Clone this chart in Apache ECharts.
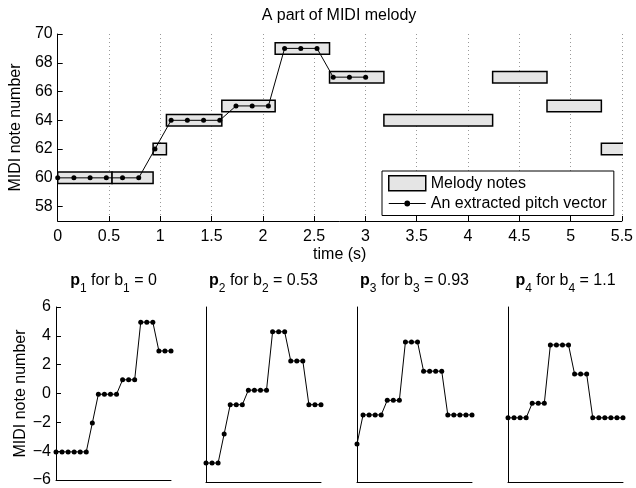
<!DOCTYPE html>
<html>
<head>
<meta charset="utf-8">
<script src="https://cdn.jsdelivr.net/npm/echarts@6/dist/echarts.min.js"></script>
<style>
  html, body { margin: 0; padding: 0; background: #fff; }
  #chart { width: 636px; height: 488px; }
</style>
</head>
<body>
<div id="chart"></div>
<script>
// ---- Data ----
const noteStart = [0, 0.53, 0.93, 1.06, 1.6, 2.12, 2.65, 3.18, 4.24, 4.77, 5.3];
const noteEnd   = [0.53, 0.93, 1.06, 1.6, 2.12, 2.65, 3.18, 4.24, 4.77, 5.3, 5.83];
const notePitch = [60, 60, 62, 64, 65, 69, 67, 64, 67, 65, 62];

const pitchTimes  = [0, 0.158, 0.316, 0.474, 0.632, 0.79, 0.948, 1.106, 1.264, 1.422,
                     1.58, 1.738, 1.896, 2.054, 2.212, 2.37, 2.528, 2.686, 2.844, 3.002];
const pitchValues = [60, 60, 60, 60, 60, 60, 62, 64, 64, 64,
                     64, 65, 65, 65, 69, 69, 69, 67, 67, 67];

const xTicksTop = [0, 0.5, 1, 1.5, 2, 2.5, 3, 3.5, 4, 4.5, 5, 5.5];
const yTicksTop = [58, 60, 62, 64, 66, 68, 70];
const yTicksBottom = [-6, -4, -2, 0, 2, 4, 6];

const vecIndex = [1, 2, 3, 4, 5, 6, 7, 8, 9, 10, 11, 12, 13, 14, 15, 16, 17, 18, 19, 20];
const p1 = [-4.05, -4.05, -4.05, -4.05, -4.05, -4.05, -2.05, -0.05, -0.05, -0.05,
            -0.05, 0.95, 0.95, 0.95, 4.95, 4.95, 4.95, 2.95, 2.95, 2.95];
const p2 = [-4.7, -4.7, -4.7, -2.7, -0.7, -0.7, -0.7, 0.3, 0.3, 0.3,
            0.3, 4.3, 4.3, 4.3, 2.3, 2.3, 2.3, -0.7, -0.7, -0.7];
const p3 = [-3.4, -1.4, -1.4, -1.4, -1.4, -0.4, -0.4, -0.4, 3.6, 3.6,
            3.6, 1.6, 1.6, 1.6, 1.6, -1.4, -1.4, -1.4, -1.4, -1.4];
const p4 = [-1.6, -1.6, -1.6, -1.6, -0.6, -0.6, -0.6, 3.4, 3.4, 3.4,
            3.4, 1.4, 1.4, 1.4, -1.6, -1.6, -1.6, -1.6, -1.6, -1.6];
const panelSeries = [p1, p2, p3, p4];
const panelSub = ['1', '2', '3', '4'];
const panelB = ['0', '0.53', '0.93', '1.1'];

// ---- Chart ----
const FONT = 'Liberation Sans, Arial, Helvetica, sans-serif';
const chart = echarts.init(document.getElementById('chart'), null, { renderer: 'canvas' });
const minus = v => String(v).replace('-', '\u2212');

const panelLefts = [56, 206, 357, 508];
const panelWidth = 115;

const grids = [{ left: 55, top: 34, width: 568, height: 187 }];
panelLefts.forEach(l => grids.push({ left: l, top: 307, width: panelWidth, height: 175 }));

const xAxes = [{
  gridIndex: 0, type: 'value', min: 0, max: 5.5, interval: 0.5,
  name: 'time (s)', nameLocation: 'middle', nameGap: 26,
  nameTextStyle: { color: '#000', fontSize: 16, fontFamily: FONT },
  axisLine: { onZero: false, lineStyle: { color: '#000', width: 1 } },
  axisTick: { inside: true, length: 5, lineStyle: { color: '#000' } },
  axisLabel: { color: '#000', fontSize: 16, fontFamily: FONT, margin: 8 },
  splitLine: { show: true, lineStyle: { color: '#999', type: [1, 3], width: 1 } }
}];
const yAxes = [{
  gridIndex: 0, type: 'value', min: 57, max: 70,
  name: 'MIDI note number', nameLocation: 'middle', nameGap: 25,
  nameTextStyle: { color: '#000', fontSize: 16, fontFamily: FONT },
  axisLine: { show: true, onZero: false, lineStyle: { color: '#000', width: 1 } },
  axisTick: { show: true, inside: true, length: 5, customValues: yTicksTop, lineStyle: { color: '#000' } },
  axisLabel: { color: '#000', fontSize: 16, fontFamily: FONT, margin: 5, customValues: yTicksTop },
  splitLine: { show: false }
}];

panelLefts.forEach((l, i) => {
  xAxes.push({
    gridIndex: i + 1, type: 'category', data: vecIndex, boundaryGap: false,
    axisLine: { onZero: false, lineStyle: { color: '#000', width: 1 } },
    axisTick: { show: false }, axisLabel: { show: false }, splitLine: { show: false }
  });
  yAxes.push({
    gridIndex: i + 1, type: 'value', min: -6, max: 6, interval: 2,
    name: i === 0 ? 'MIDI note number' : '', nameLocation: 'middle', nameGap: 25,
    nameTextStyle: { color: '#000', fontSize: 16, fontFamily: FONT },
    axisLine: { show: true, onZero: false, lineStyle: { color: '#000', width: 1 } },
    axisTick: { show: i === 0, inside: true, length: 5, lineStyle: { color: '#000' } },
    axisLabel: { show: i === 0, color: '#000', fontSize: 16, fontFamily: FONT, margin: 5, formatter: minus },
    splitLine: { show: false }
  });
});

const titles = [{
  text: 'A part of MIDI melody', left: 339, top: 8, textAlign: 'center', padding: 0,
  textStyle: { color: '#000', fontSize: 16, fontWeight: 'normal', fontFamily: FONT }
}];
panelLefts.forEach((l, i) => {
  titles.push({
    text: '{b|p}{s|' + panelSub[i] + '}{t| for b}{s|' + panelSub[i] + '}{t| = ' + panelB[i] + '}',
    left: l + panelWidth / 2, top: 267, textAlign: 'center', padding: 0,
    textStyle: {
      color: '#000', fontSize: 16, fontWeight: 'normal', fontFamily: FONT,
      rich: {
        b: { fontSize: 16, fontWeight: 'bold', lineHeight: 28, fontFamily: FONT, color: '#000' },
        t: { fontSize: 16, fontWeight: 'normal', lineHeight: 28, fontFamily: FONT, color: '#000' },
        s: { fontSize: 12, fontWeight: 'normal', lineHeight: 12, verticalAlign: 'bottom', fontFamily: FONT, color: '#000' }
      }
    }
  });
});

const noteData = noteStart.map((s, i) => [s, noteEnd[i], notePitch[i]]);
const pitchData = pitchTimes.map((t, i) => [t, pitchValues[i]]);

const lineIcon = 'path://M0 7L15.6 7L15.6 8L0 8Z M21.4 7L37 7L37 8L21.4 8Z ' +
                 'M15.6 7.5A2.9 2.9 0 1 1 21.4 7.5A2.9 2.9 0 1 1 15.6 7.5Z';

const series = [{
  name: 'Melody notes', type: 'custom', xAxisIndex: 0, yAxisIndex: 0, clip: true, z: 2,
  itemStyle: { color: '#e5e5e5', borderColor: '#000', borderWidth: 1.5 },
  encode: { x: [0, 1], y: 2 },
  data: noteData,
  renderItem: function (params, api) {
    const s = api.coord([api.value(0), api.value(2)]);
    const e = api.coord([api.value(1), api.value(2)]);
    const h = api.size([0, 0.8])[1];
    return {
      type: 'rect',
      shape: { x: s[0], y: s[1] - h / 2, width: e[0] - s[0], height: h },
      style: { fill: '#e5e5e5', stroke: '#000', lineWidth: 1.5 }
    };
  }
}, {
  name: 'An extracted pitch vector', type: 'line', xAxisIndex: 0, yAxisIndex: 0, z: 3,
  data: pitchData, symbol: 'circle', symbolSize: 5, showSymbol: true, showAllSymbol: true,
  lineStyle: { color: '#000', width: 1 }, itemStyle: { color: '#000' }
}];
panelSeries.forEach((p, i) => {
  series.push({
    type: 'line', xAxisIndex: i + 1, yAxisIndex: i + 1, data: p,
    symbol: 'circle', symbolSize: 5, showSymbol: true, showAllSymbol: true,
    lineStyle: { color: '#000', width: 1 }, itemStyle: { color: '#000' }
  });
});

chart.setOption({
  animation: false,
  backgroundColor: '#fff',
  textStyle: { fontFamily: FONT },
  title: titles,
  legend: {
    left: 382, top: 171, orient: 'vertical',
    backgroundColor: '#fff', borderColor: '#000', borderWidth: 1,
    padding: [4, 7, 4, 6], itemGap: 4, itemWidth: 37, itemHeight: 15,
    textStyle: { color: '#000', fontSize: 16, fontFamily: FONT },
    selectedMode: false,
    data: [
      { name: 'Melody notes', icon: 'rect', itemStyle: { color: '#e5e5e5', borderColor: '#000', borderWidth: 1.5 } },
      { name: 'An extracted pitch vector', icon: lineIcon, itemStyle: { color: '#000', borderColor: '#000', borderWidth: 0 } }
    ]
  },
  grid: grids,
  xAxis: xAxes,
  yAxis: yAxes,
  series: series
});
</script>
</body>
</html>
